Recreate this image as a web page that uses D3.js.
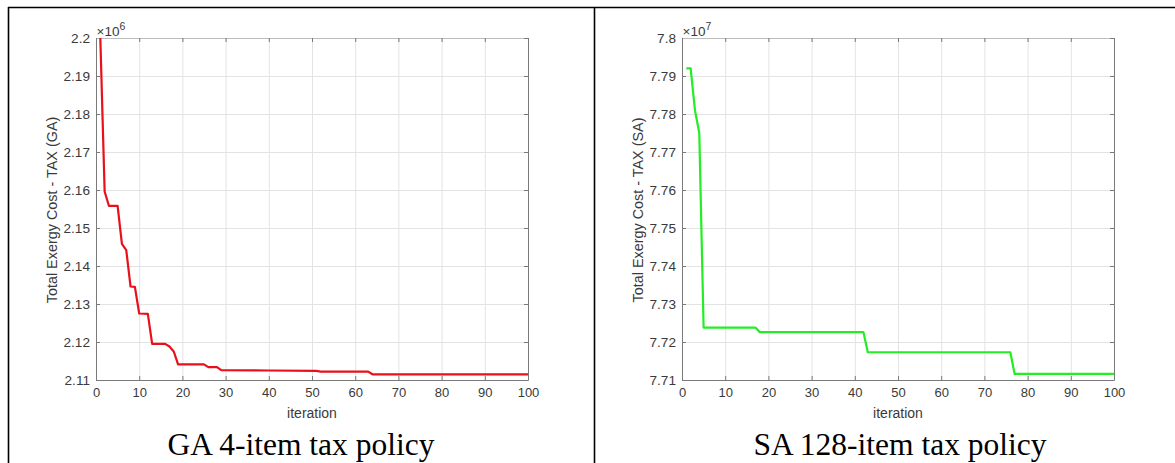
<!DOCTYPE html>
<html>
<head>
<meta charset="utf-8">
<script src="https://cdn.jsdelivr.net/npm/d3@7"></script>
<style>
  body { margin: 0; background: #fff; }
  svg { display: block; }
</style>
</head>
<body>
<div id="chart"></div>
<script>
// iteration / cost breakpoints (cost in units of 10^exp)
const gaIter = [1, 2, 3, 5, 6, 7, 8, 9, 10, 12, 13, 16, 17, 18, 19, 25, 26, 28, 29, 40, 51, 52, 63, 64, 100];
const gaCost = [2.2, 2.1596, 2.1558, 2.1558, 2.1458, 2.1442, 2.1346, 2.1345, 2.1275, 2.1274, 2.1195, 2.1195, 2.1188, 2.1175, 2.1141, 2.1141, 2.1134, 2.1134, 2.1126, 2.1125, 2.1124, 2.1122, 2.1122, 2.1115, 2.1115];

const saIter = [1, 2, 3, 4, 5, 17, 18, 42, 43, 76, 77, 100];
const saCost = [7.792, 7.792, 7.781, 7.775, 7.7238, 7.7238, 7.7226, 7.7226, 7.7173, 7.7173, 7.7116, 7.7116];

const iterTicks = [0, 10, 20, 30, 40, 50, 60, 70, 80, 90, 100];
const gaTicks = [2.11, 2.12, 2.13, 2.14, 2.15, 2.16, 2.17, 2.18, 2.19, 2.2];
const saTicks = [7.71, 7.72, 7.73, 7.74, 7.75, 7.76, 7.77, 7.78, 7.79, 7.8];

const width = 1175;
const height = 463;

const svg = d3.select("#chart").append("svg")
    .attr("width", width)
    .attr("height", height);

// table borders
const border = svg.append("g").attr("stroke", "#000").attr("stroke-width", 1.6);
border.append("line").attr("x1", 8).attr("x2", width).attr("y1", 7.5).attr("y2", 7.5);
border.append("line").attr("x1", 8.5).attr("x2", 8.5).attr("y1", 7).attr("y2", height);
border.append("line").attr("x1", 594.5).attr("x2", 594.5).attr("y1", 7).attr("y2", height);

const axisColor = "#7a7a7a";
const textColor = "#3a3a3a";
const gridColor = "#e3e3e3";
const sans = "'Liberation Sans', Arial, sans-serif";

function drawChart(opt) {
    const x = d3.scaleLinear().domain([0, 100]).range([opt.left, opt.right]);
    const y = d3.scaleLinear().domain(opt.domain).range([380, 38]);
    const g = svg.append("g");

    // grid
    g.append("g").selectAll("line").data(iterTicks.slice(1, -1)).join("line")
        .attr("x1", d => x(d) + 0.5).attr("x2", d => x(d) + 0.5)
        .attr("y1", y.range()[1]).attr("y2", y.range()[0])
        .attr("stroke", gridColor);
    g.append("g").selectAll("line").data(opt.ticks.slice(1, -1)).join("line")
        .attr("y1", d => y(d) + 0.5).attr("y2", d => y(d) + 0.5)
        .attr("x1", x.range()[0]).attr("x2", x.range()[1])
        .attr("stroke", gridColor);

    // axes (ticks pointing inward, box on)
    const fmt = d3.format("~g");
    const bottom = g.append("g")
        .attr("transform", `translate(0,380)`)
        .call(d3.axisBottom(x).tickValues(iterTicks).tickSize(-4).tickPadding(8).tickSizeOuter(0));
    const left = g.append("g")
        .attr("transform", `translate(${opt.left},0)`)
        .call(d3.axisLeft(y).tickValues(opt.ticks).tickFormat(fmt).tickSize(-4).tickPadding(6).tickSizeOuter(0));
    const top = g.append("g")
        .attr("transform", `translate(0,38)`)
        .call(d3.axisTop(x).tickValues(iterTicks).tickSize(-4).tickFormat("").tickSizeOuter(0));
    const right = g.append("g")
        .attr("transform", `translate(${opt.right},0)`)
        .call(d3.axisRight(y).tickValues(opt.ticks).tickSize(-4).tickFormat("").tickSizeOuter(0));

    [bottom, left, top, right].forEach(a => {
        a.select(".domain").attr("stroke", axisColor);
        a.selectAll(".tick line").attr("stroke", axisColor);
        a.selectAll("text")
            .attr("fill", textColor)
            .style("font-family", sans);
    });
    bottom.selectAll("text").style("font-size", "13px");
    left.selectAll("text").style("font-size", "13.6px");
    top.select(".domain").attr("stroke", "#bdbdbd");

    // exponent
    const ex = g.append("text")
        .attr("x", opt.left + 0.5).attr("y", 36)
        .attr("fill", textColor)
        .style("font-family", sans)
        .style("font-size", "13.5px");
    ex.append("tspan").text("\u00d710");
    ex.append("tspan").attr("dy", -6).style("font-size", "10.5px").text(opt.exp);

    // axis labels
    g.append("text")
        .attr("x", (opt.left + opt.right) / 2).attr("y", 418)
        .attr("text-anchor", "middle")
        .attr("fill", textColor)
        .style("font-family", sans)
        .style("font-size", "14px")
        .text("iteration");
    g.append("text")
        .attr("transform", `translate(${opt.left - 39},210) rotate(-90)`)
        .attr("text-anchor", "middle")
        .attr("fill", textColor)
        .style("font-family", sans)
        .style("font-size", "14.4px")
        .text(opt.ylabel);

    // series
    const line = d3.line()
        .x((d, i) => x(opt.iter[i]))
        .y(d => y(d));
    g.append("path")
        .datum(opt.cost)
        .attr("fill", "none")
        .attr("stroke", opt.color)
        .attr("stroke-width", 2.2)
        .attr("stroke-linejoin", "round")
        .attr("d", line);

    // caption
    g.append("text")
        .attr("x", opt.captionX).attr("y", 455)
        .attr("text-anchor", "middle")
        .attr("fill", "#000")
        .style("font-family", "'Liberation Serif', 'Times New Roman', serif")
        .style("font-size", "31.5px")
        .text(opt.caption);
}

drawChart({
    left: 96, right: 528, domain: [2.11, 2.2], ticks: gaTicks, exp: "6",
    iter: gaIter, cost: gaCost, color: "#e8101a",
    ylabel: "Total Exergy Cost - TAX (GA)",
    caption: "GA 4-item tax policy", captionX: 301
});
drawChart({
    left: 682, right: 1114, domain: [7.71, 7.8], ticks: saTicks, exp: "7",
    iter: saIter, cost: saCost, color: "#22ee22",
    ylabel: "Total Exergy Cost - TAX (SA)",
    caption: "SA 128-item tax policy", captionX: 900
});
</script>
</body>
</html>
